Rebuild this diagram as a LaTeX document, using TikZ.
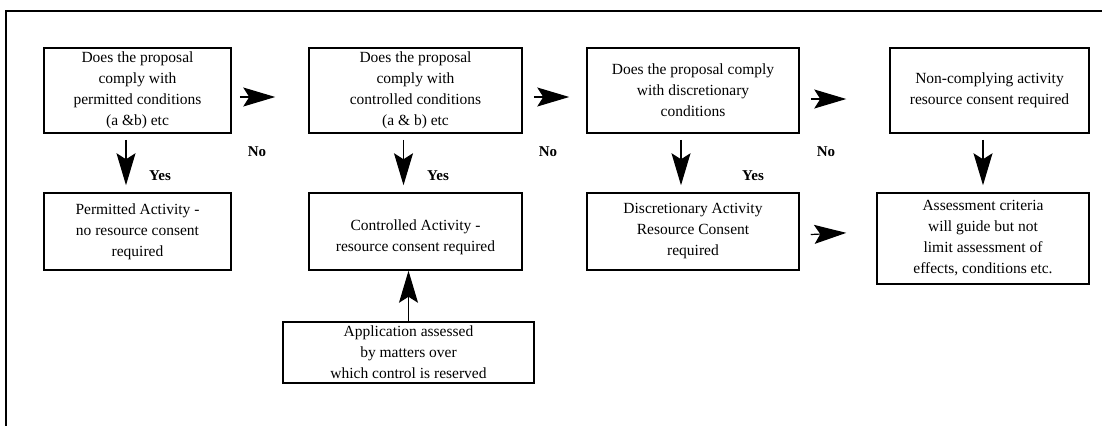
\documentclass[tikz,border=0pt]{standalone}
\usepackage{fontspec}
\setmainfont{Liberation Serif}
\usetikzlibrary{arrows.meta}
\begin{document}
\begin{tikzpicture}[x=1pt,y=-1pt,
  box/.style={draw, line width=1.5pt, align=center, inner sep=0pt,
    font=\fontsize{15.5}{21}\selectfont},
  lab/.style={inner sep=0pt, font=\fontsize{15}{18}\selectfont\bfseries},
  arr/.style={line width=1.2pt, -{Stealth[length=32pt,width=19pt,inset=6pt]}}]
\useasboundingbox (0,0) rectangle (1102,426);
\draw[line width=1.3pt] (1102,11) -- (6,11) -- (6,426);

% top row
\node[box, minimum width=187pt, minimum height=85pt] (q1) at (137.5,90.5)
  {Does the proposal\\comply with\\permitted conditions\\(a \&b) etc};
\node[box, minimum width=213pt, minimum height=85pt] (q2) at (415.5,90.5)
  {Does the proposal\\comply with\\controlled conditions\\(a \& b) etc};
\node[box, minimum width=212pt, minimum height=85pt] (q3) at (693,90.5)
  {Does the proposal comply\\with discretionary\\conditions};
\node[box, minimum width=199pt, minimum height=85pt] (q4) at (989.5,90.5)
  {Non-complying activity\\resource consent required};

% bottom row
\node[box, minimum width=187pt, minimum height=77pt] (p1) at (137.5,231.5)
  {Permitted Activity -\\no resource consent\\required};
\node[box, minimum width=213pt, minimum height=77pt] (c2) at (415.5,231.5)
  {\rule{0pt}{22pt}Controlled Activity -\\resource consent required};
\node[box, minimum width=212pt, minimum height=77pt] (d3) at (693,231.5)
  {Discretionary Activity\\Resource Consent\\required};
\node[box, minimum width=212pt, minimum height=91pt] (a4) at (983,238.5)
  {Assessment criteria\\will guide but not\\limit assessment of\\effects, conditions etc.};
\node[box, minimum width=251pt, minimum height=61pt] (app) at (408.5,352.5)
  {Application assessed\\by matters over\\which control is reserved};

% labels
\node[lab] (no1) at (257,152) {No};
\node[lab] (no2) at (548,152) {No};
\node[lab] (no3) at (826,152) {No};
\node[lab] (yes1) at (160,176) {Yes};
\node[lab] (yes2) at (438,176) {Yes};
\node[lab] (yes3) at (753,176) {Yes};

% horizontal arrows
\draw[arr, shorten <=8pt, shorten >=33pt] ([yshift=-6.5pt]q1.east) -- ([yshift=-6.5pt]q2.west);
\draw[arr, shorten <=11pt, shorten >=17pt] ([yshift=-6.5pt]q2.east) -- ([yshift=-6.5pt]q3.west);
\draw[arr, shorten <=11pt, shorten >=43pt] ([yshift=-8.5pt]q3.east) -- ([yshift=-8.5pt]q4.west);
\draw[arr, shorten <=11pt, shorten >=30pt] ([yshift=-3.5pt]d3.east) -- (d3.east -| a4.west);

% vertical arrows
\draw[arr, shorten <=6pt, shorten >=7pt] ([xshift=-11.5pt]q1.south) -- ([xshift=-11.5pt]q1.south |- p1.north);
\draw[arr, shorten <=6pt, shorten >=7pt] ([xshift=-12pt]q2.south) -- ([xshift=-12pt]q2.south |- c2.north);
\draw[arr, shorten <=6pt, shorten >=7pt] ([xshift=-12pt]q3.south) -- ([xshift=-12pt]q3.south |- d3.north);
\draw[arr, shorten <=6pt, shorten >=7pt] ([xshift=-6.5pt]q4.south) -- ([xshift=-6.5pt]q4.south |- a4.north);
\draw[arr] (app.north) -- (app.north |- c2.south);
\end{tikzpicture}
\end{document}
